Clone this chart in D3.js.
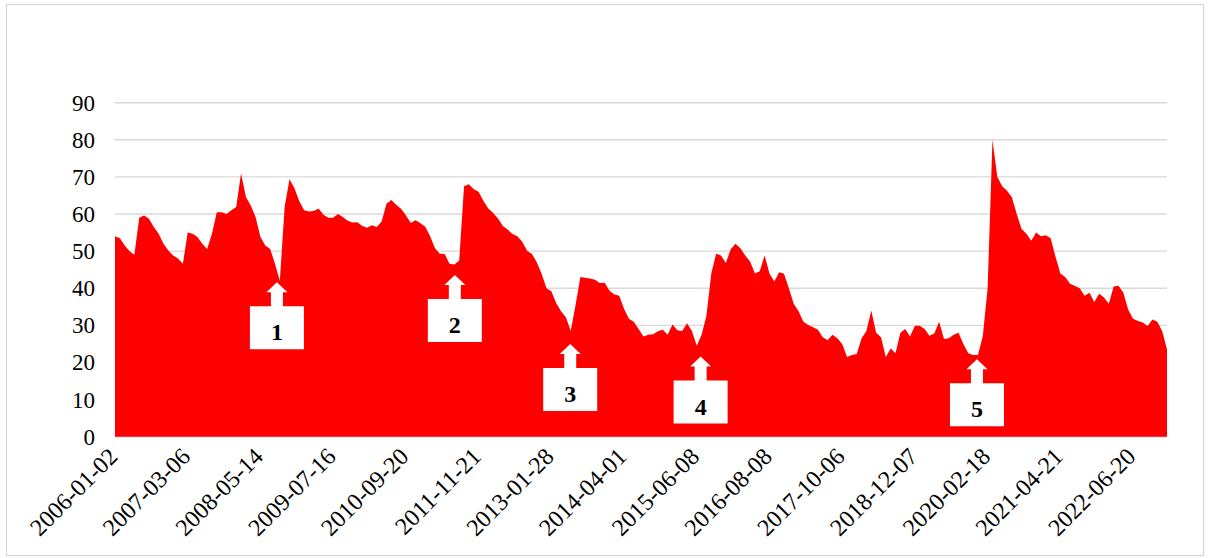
<!DOCTYPE html>
<html>
<head>
<meta charset="utf-8">
<script src="https://cdn.jsdelivr.net/npm/d3@7"></script>
<style>
  body { margin: 0; background: #fff; }
  svg { display: block; }
</style>
</head>
<body>
<svg id="chart"></svg>
<script>
// one value every 20 trading days
var values = [
  54, 53.5, 51.5, 50, 49, 59, 59.6, 58.7, 56.5, 54.7,
  52, 50.2, 48.8, 48, 46.6, 55, 54.7, 53.8, 52, 50.6,
  54.7, 60.5, 60.5, 60, 61, 61.9, 70.9, 64.6, 62.3, 59.2,
  53.8, 51.5, 50.6, 46.6, 42, 62, 69.4,
  67, 63.5, 61, 60.7, 60.8, 61.5, 59.8, 59, 59, 60,
  59.2, 58.2, 57.7, 57.8, 56.8, 56.3, 57, 56.5, 58, 62.8,
  63.8, 62.5, 61.4, 59.7, 57.6, 58.3, 57.5, 56.6, 54, 50.8,
  49.3, 49.2, 46.6, 46.4, 47.5,
  67.5, 68, 66.7, 66, 63.5, 61.5, 60.3, 58.8, 56.8, 55.8,
  54.6, 54, 52.5, 50.1, 49.2, 47, 43.9, 40, 39.2, 36,
  33.8, 32.2, 28.5, 35.5, 43, 42.8, 42.6, 42.3, 41.4, 41.5,
  39.3, 38.3, 38, 34.5, 31.8, 31,
  29, 27, 27.5, 27.6, 28.4, 28.8, 27.5, 30.2, 28.7, 28.5,
  30.6, 28.5, 24.5, 27.5, 32.6, 44, 49.3, 48.8, 46.8, 50.5,
  52, 50.8, 48.8, 47.2, 44, 44.6, 48.8, 44, 41.8, 44.3,
  43.9, 40, 35.8, 33.8, 31, 30.1,
  29.5, 28.8, 26.8, 26, 27.5, 26.5, 25, 21.5, 22, 22.3,
  26.5, 28.5, 34, 28, 26.8, 21.5, 23.8, 22.5, 28, 29,
  27, 29.9, 29.9, 29, 27.2, 27.8, 31, 26.3, 26.5, 27.5,
  28, 25, 22.5, 22, 22, 27,
  40, 80, 70, 67.5, 66.3, 64.5, 60, 56, 54.7, 52.8,
  55, 54, 54.3, 53.5, 48.5, 44, 43, 41.2, 40.6, 40,
  38, 38.8, 36.3, 38.5, 37.5, 35.8, 40.5, 40.7, 38.8, 34.2,
  31.8, 31.2, 30.8, 29.8, 31.6, 31, 28.5, 23.5
];

// category labels, one every 300 trading days (= 15 samples)
var dateLabels = [
  "2006-01-02", "2007-03-06", "2008-05-14", "2009-07-16", "2010-09-20",
  "2011-11-21", "2013-01-28", "2014-04-01", "2015-06-08", "2016-08-08",
  "2017-10-06", "2018-12-07", "2020-02-18", "2021-04-21", "2022-06-20"
];
var labelStep = 15;

var yTicks = [0, 10, 20, 30, 40, 50, 60, 70, 80, 90];

// numbered callouts: sample index and value of the arrow tip
var markLabels = ["1", "2", "3", "4", "5"];
var markIndex = [33.4, 70.1, 93.9, 120.8, 177.8];
var markValue = [41.6, 43.6, 25, 21.6, 20.9];

var font = "Liberation Serif, Times New Roman, DejaVu Serif, serif";

var width = 1208, height = 558;
var svg = d3.select("#chart").attr("width", width).attr("height", height);

// outer frame
svg.append("rect")
  .attr("x", 6.5).attr("y", 4.5)
  .attr("width", 1197).attr("height", 551)
  .attr("fill", "#fff")
  .attr("stroke", "#d9d9d9")
  .attr("stroke-width", 1.3);

//scales
var x = d3.scaleLinear().domain([0, values.length - 1]).range([115, 1167]);
var y = d3.scaleLinear().domain([0, 90]).range([436.7, 102.7]);

// gridlines
svg.selectAll("line.grid")
  .data(yTicks)
  .enter()
  .append("line")
  .attr("class", "grid")
  .attr("x1", 115).attr("x2", 1167)
  .attr("y1", function (d) { return y(d); })
  .attr("y2", function (d) { return y(d); })
  .attr("stroke", "#d9d9d9")
  .attr("stroke-width", 1.4);

// y axis labels
svg.selectAll("text.ylab")
  .data(yTicks)
  .enter()
  .append("text")
  .attr("class", "ylab")
  .text(function (d) { return d; })
  .attr("x", 95)
  .attr("y", function (d) { return y(d) + 8; })
  .attr("text-anchor", "end")
  .attr("font-family", font)
  .attr("font-size", 23)
  .attr("fill", "#000");

// red area
var area = d3.area()
  .x(function (d, i) { return x(i); })
  .y0(y(0))
  .y1(function (d) { return y(d); });

svg.append("path")
  .datum(values)
  .attr("d", area)
  .attr("fill", "#ff0000");

// x labels, rotated
svg.selectAll("text.xlab")
  .data(dateLabels)
  .enter()
  .append("text")
  .attr("class", "xlab")
  .text(function (d) { return d; })
  .attr("transform", function (d, i) {
    return "translate(" + (x(i * labelStep) + 4) + ",458) rotate(-45)";
  })
  .attr("text-anchor", "end")
  .attr("font-family", font)
  .attr("font-size", 24)
  .attr("fill", "#000");

// callouts: arrow + box
markLabels.forEach(function (lab, i) {
  var ax = x(markIndex[i]);
  var ay = y(markValue[i]);
  var pts = [
    [ax, ay], [ax + 10.5, ay + 10], [ax + 6, ay + 10], [ax + 6, ay + 24],
    [ax + 27, ay + 24], [ax + 27, ay + 67], [ax - 27, ay + 67], [ax - 27, ay + 24],
    [ax - 6, ay + 24], [ax - 6, ay + 10], [ax - 10.5, ay + 10]
  ];
  svg.append("path")
    .attr("d", "M" + pts.join("L") + "Z")
    .attr("fill", "#fff");
  svg.append("text")
    .text(lab)
    .attr("x", ax)
    .attr("y", ay + 58)
    .attr("text-anchor", "middle")
    .attr("font-family", font)
    .attr("font-size", 24)
    .attr("font-weight", "bold")
    .attr("fill", "#000");
});
</script>
</body>
</html>
